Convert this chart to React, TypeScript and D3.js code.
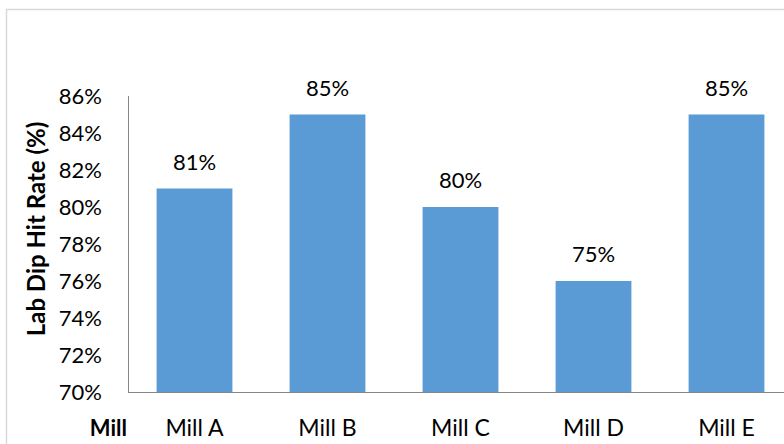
import React from "react";
import * as d3 from "d3";

const categories = ["Mill A", "Mill B", "Mill C", "Mill D", "Mill E"];
const values = [81, 85, 80, 76, 85];
const valueLabels = ["81%", "85%", "80%", "75%", "85%"];
const yTicks = [70, 72, 74, 76, 78, 80, 82, 84, 86];

const W = 784;
const H = 444;
const FONT = "Lato, 'Open Sans', sans-serif";

export default function App() {
  const x0 = 128;
  const yBase = 392;
  const x = d3
    .scaleBand<string>()
    .domain(categories)
    .range([x0, x0 + 133 * 5])
    .paddingInner(0.43)
    .paddingOuter(0.215);
  const y = d3.scaleLinear().domain([70, 86]).range([yBase, 96]);

  return (
    <svg
      width={W}
      height={H}
      style={{ position: "absolute", left: 0, top: 0, background: "#fff" }}
      fontFamily={FONT}
    >
      <rect x={0} y={0} width={W} height={H} fill="#fff" />
      {/* outer chart border */}
      <path d={`M6.5,${H} V9.5 H${W}`} fill="none" stroke="#d9d9d9" strokeWidth={1.5} />
      {/* bars */}
      {categories.map((c, i) => (
        <rect
          key={c}
          x={x(c)}
          y={y(values[i])}
          width={x.bandwidth()}
          height={yBase - y(values[i])}
          fill="#5b9bd5"
        />
      ))}
      {/* axes */}
      <line x1={x0 + 0.5} x2={x0 + 0.5} y1={96} y2={yBase} stroke="#868686" strokeWidth={1} />
      <line x1={x0} x2={W} y1={yBase + 0.5} y2={yBase + 0.5} stroke="#868686" strokeWidth={1} />
      {/* y tick labels */}
      {yTicks.map((t) => (
        <text
          key={t}
          x={102}
          y={y(t)}
          dy="0.36em"
          textAnchor="end"
          fontSize={22}
          fill="#000"
        >
          {t}%
        </text>
      ))}
      {/* value labels */}
      {categories.map((c, i) => (
        <text
          key={c}
          x={(x(c) as number) + x.bandwidth() / 2}
          y={y(values[i]) - 19}
          textAnchor="middle"
          fontSize={22}
          fill="#000"
        >
          {valueLabels[i]}
        </text>
      ))}
      {/* category labels */}
      {categories.map((c) => (
        <text
          key={c}
          x={(x(c) as number) + x.bandwidth() / 2}
          y={436}
          textAnchor="middle"
          fontSize={23}
          fill="#000"
        >
          {c}
        </text>
      ))}
      <text x={127} y={436} textAnchor="end" fontSize={22} fontWeight="bold" fill="#000">
        Mill
      </text>
      <text
        transform={`translate(45,229) rotate(-90)`}
        textAnchor="middle"
        fontSize={24}
        fontWeight="bold"
        fill="#000"
      >
        Lab Dip Hit Rate (%)
      </text>
    </svg>
  );
}
